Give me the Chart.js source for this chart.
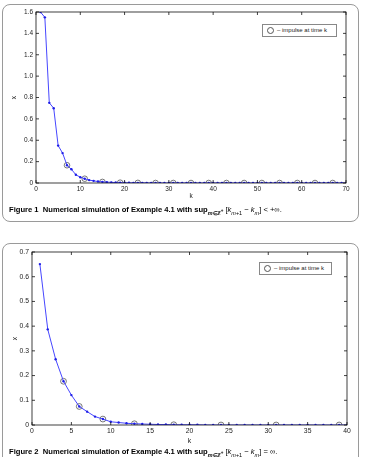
<!DOCTYPE html>
<html lang="en">
<head>
  <meta charset="UTF-8">
  <title>Example 4.1 simulations</title>
  <script src="https://cdn.jsdelivr.net/npm/chart.js"></script>
  <style>
    html, body {
      margin: 0;
      padding: 0;
      width: 365px;
      height: 457px;
      overflow: hidden;
      background: #fff;
      font-family: "Liberation Sans", Arial, sans-serif;
    }
    .box {
      position: absolute;
      left: 2px;
      width: 357px;
      border: 1px solid #9a9a9a;
      border-radius: 8px;
      box-sizing: border-box;
    }
    .plot {
      position: absolute;
      left: 0;
    }
    .legend {
      position: absolute;
      height: 13px;
      border: 1px solid #888;
      background: #fff;
      box-sizing: border-box;
      font-size: 6px;
      line-height: 11px;
      color: #222;
      white-space: nowrap;
    }
    .legend i {
      display: inline-block;
      width: 5px;
      height: 5px;
      border: 1px solid #555;
      border-radius: 50%;
      margin: 0 3px 0 4px;
      vertical-align: -2px;
    }
    .cap {
      position: absolute;
      left: 9px;
      font-size: 7.6px;
      color: #000;
      white-space: nowrap;
      transform: translateZ(0);
    }
    .cap sub { font-size: 72%; }
  </style>
</head>
<body>
  <div class="box" style="top:4px; height:218px;"></div>
  <div class="box" style="top:243px; height:240px;"></div>

  <canvas id="fig1" class="plot" style="top:0px;" width="365" height="200"></canvas>
  <div class="legend" style="left:262px; top:24px; width:75px;"><i></i>&ndash; impulse at time k</div>
  <div class="cap" style="top:205px;"><b>Figure 1&nbsp; Numerical simulation of Example 4.1 with sup<sub><i>m</i>∈ℤ<sup>+</sup></sub></b> [<i>k</i><sub><i>m</i>+1</sub> − <i>k</i><sub><i>m</i></sub>] &lt; +∞.</div>

  <canvas id="fig2" class="plot" style="top:240px;" width="365" height="205"></canvas>
  <div class="legend" style="left:259px; top:262px; width:73px;"><i></i>&ndash; impulse at time k</div>
  <div class="cap" style="top:447px;"><b>Figure 2&nbsp; Numerical simulation of Example 4.1 with sup<sub><i>m</i>∈ℤ<sup>+</sup></sub></b> [<i>k</i><sub><i>m</i>+1</sub> − <i>k</i><sub><i>m</i></sub>] = ∞.</div>

  <script>
    // Figure 1: k = 1..70
    const fig1X = [
      1.6, 1.55, 0.75, 0.70, 0.35, 0.28, 0.166, 0.128, 0.077, 0.054,
      0.040, 0.027, 0.020, 0.014, 0.010, 0.008, 0.006, 0.004, 0.003, 0.002,
      0.002, 0.001, 0.001, 0.001, 0.001, 0, 0, 0, 0, 0,
      0, 0, 0, 0, 0, 0, 0, 0, 0, 0,
      0, 0, 0, 0, 0, 0, 0, 0, 0, 0,
      0, 0, 0, 0, 0, 0, 0, 0, 0, 0,
      0, 0, 0, 0, 0, 0, 0, 0, 0, 0
    ];
    const fig1Impulses = [7, 11, 15, 19, 23, 27, 31, 35, 39, 43, 47, 51, 55, 59, 63, 67];
    const fig1XTicks = [0, 10, 20, 30, 40, 50, 60, 70];
    const fig1YTicks = [0, 0.2, 0.4, 0.6, 0.8, 1, 1.2, 1.4, 1.6];

    // Figure 2: k = 1..40
    const fig2X = [
      0.651, 0.387, 0.266, 0.177, 0.121, 0.075, 0.054, 0.034, 0.024, 0.013,
      0.010, 0.007, 0.005, 0.004, 0.003, 0.002, 0.002, 0.001, 0.001, 0.001,
      0.001, 0, 0, 0, 0, 0, 0, 0, 0, 0,
      0, 0, 0, 0, 0, 0, 0, 0, 0, 0
    ];
    const fig2Impulses = [4, 6, 9, 13, 18, 24, 31, 39];
    const fig2XTicks = [0, 5, 10, 15, 20, 25, 30, 35, 40];
    const fig2YTicks = [0, 0.1, 0.2, 0.3, 0.4, 0.5, 0.6, 0.7];

    Chart.defaults.font.family = '"Liberation Sans", Arial, sans-serif';
    Chart.defaults.color = '#222';

    // MATLAB style box with inward ticks on all four sides
    const matlabBox = {
      id: 'matlabBox',
      afterDraw(chart) {
        const { ctx, chartArea: a, scales } = chart;
        const len = 3;
        ctx.save();
        ctx.strokeStyle = '#111';
        ctx.lineWidth = 0.8;
        ctx.strokeRect(a.left, a.top, a.right - a.left, a.bottom - a.top);
        ctx.beginPath();
        scales.x.ticks.forEach(t => {
          const px = scales.x.getPixelForValue(t.value);
          ctx.moveTo(px, a.bottom); ctx.lineTo(px, a.bottom - len);
          ctx.moveTo(px, a.top); ctx.lineTo(px, a.top + len);
        });
        scales.y.ticks.forEach(t => {
          const py = scales.y.getPixelForValue(t.value);
          ctx.moveTo(a.left, py); ctx.lineTo(a.left + len, py);
          ctx.moveTo(a.right, py); ctx.lineTo(a.right - len, py);
        });
        ctx.stroke();
        ctx.restore();
      }
    };

    function makeChart(id, values, impulses, xTicks, yTicks, opt) {
      const line = values.map((v, i) => ({ x: i + 1, y: v }));
      const circles = impulses.map(k => ({ x: k, y: values[k - 1] }));
      return new Chart(document.getElementById(id), {
        type: 'scatter',
        data: {
          datasets: [
            {
              data: line,
              showLine: true,
              borderColor: 'rgb(70,70,255)',
              backgroundColor: 'rgb(30,30,230)',
              borderWidth: 1,
              pointRadius: 1.2,
              pointBorderWidth: 0
            },
            {
              data: circles,
              showLine: false,
              pointStyle: 'circle',
              pointRadius: opt.circle,
              borderColor: '#555',
              backgroundColor: 'rgba(0,0,0,0)',
              borderWidth: 0.8
            }
          ]
        },
        options: {
          responsive: false,
          animation: false,
          events: [],
          layout: { padding: { top: opt.top, right: opt.right, left: 0, bottom: 0 } },
          plugins: { legend: { display: false }, tooltip: { enabled: false } },
          scales: {
            x: {
              type: 'linear',
              min: xTicks[0],
              max: xTicks[xTicks.length - 1],
              afterBuildTicks: s => { s.ticks = xTicks.map(v => ({ value: v })); },
              afterFit: s => { s.height = opt.xh; },
              grid: { display: false, drawTicks: false },
              border: { display: false },
              ticks: { font: { size: opt.tick }, padding: 2, maxRotation: 0, autoSkip: false },
              title: { display: true, text: 'k', font: { size: opt.tick }, padding: { top: 2, bottom: 0 } }
            },
            y: {
              type: 'linear',
              min: yTicks[0],
              max: yTicks[yTicks.length - 1],
              afterBuildTicks: s => { s.ticks = yTicks.map(v => ({ value: v })); },
              afterFit: s => { s.width = opt.yw; },
              grid: { display: false, drawTicks: false },
              border: { display: false },
              ticks: { font: { size: opt.tick }, padding: 3, autoSkip: false },
              title: { display: true, text: 'x', font: { size: opt.tick }, padding: { top: opt.ytitle, bottom: 0 } }
            }
          }
        },
        plugins: [matlabBox]
      });
    }

    makeChart('fig1', fig1X, fig1Impulses, fig1XTicks, fig1YTicks,
      { top: 12, right: 19, xh: 17, yw: 36, tick: 6.5, circle: 2.8, ytitle: 10 });
    makeChart('fig2', fig2X, fig2Impulses, fig2XTicks, fig2YTicks,
      { top: 12, right: 18, xh: 20, yw: 32, tick: 6.8, circle: 2.9, ytitle: 11 });
  </script>
</body>
</html>
